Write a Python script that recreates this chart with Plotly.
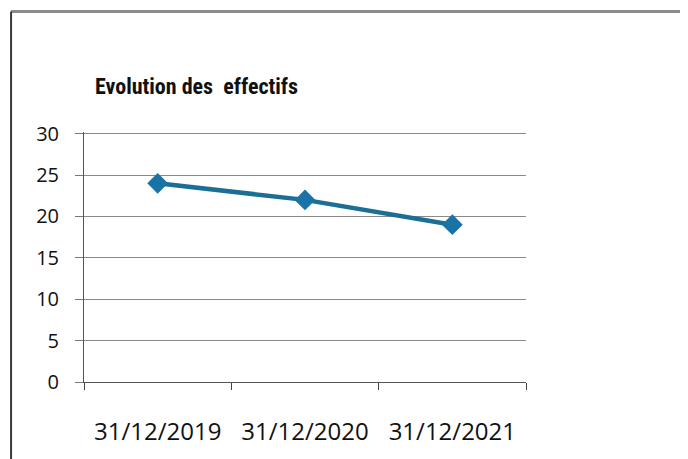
import plotly.graph_objects as go

# data
dates = ["31/12/2019", "31/12/2020", "31/12/2021"]
effectifs = [24, 22, 19]
y_ticks = [0, 5, 10, 15, 20, 25, 30]

title_text = "Evolution des  effectifs"
line_color = "#1b6f95"
marker_color = "#1a73a6"
grid_color = "#8a8a8a"

fig = go.Figure()

fig.add_trace(go.Scatter(
    x=dates, y=effectifs,
    mode="lines+markers",
    line=dict(color=line_color, width=4.5),
    marker=dict(symbol="diamond", size=16, color=marker_color),
    showlegend=False,
    hovertemplate="%{x}<br>%{y}<extra></extra>"
))

# title placed like the spreadsheet chart title
fig.add_annotation(
    text=f"<b>{title_text}</b>",
    xref="paper", yref="paper",
    x=0.02, y=1.183, xanchor="left", yanchor="middle",
    showarrow=False,
    font=dict(family="Liberation Sans Narrow, Roboto Condensed, Arial Narrow, sans-serif",
              size=22, color="#111111")
)

# scanned page frame: top and left border
fig.add_shape(type="line", xref="paper", yref="paper",
              x0=-0.165, x1=1.4, y0=1.482, y1=1.482,
              line=dict(color="#8c8c8c", width=3))
fig.add_shape(type="line", xref="paper", yref="paper",
              x0=-0.165, x1=-0.165, y0=1.482, y1=-0.35,
              line=dict(color="#3a3a3a", width=2))

# page body keeps an 8px margin, so the figure is 8px smaller on each side
fig.update_layout(
    width=680, height=451,
    margin=dict(l=76, r=162, t=124, b=77),
    paper_bgcolor="white",
    plot_bgcolor="white",
    font=dict(family="Open Sans, sans-serif", color="#111111"),
    xaxis=dict(
        type="category",
        range=[-0.5, 2.5],
        tickson="boundaries",
        ticks="outside", ticklen=7, tickcolor="#444", tickwidth=1,
        showline=True, linecolor="#555", linewidth=1,
        showgrid=False,
        tickfont=dict(size=24, color="#111111"),
        ticklabelstandoff=28,
        fixedrange=True,
    ),
    yaxis=dict(
        range=[0, 30.2],
        tickvals=y_ticks,
        ticks="outside", ticklen=8, tickcolor="#777", tickwidth=1,
        showline=True, linecolor="#555", linewidth=1,
        showgrid=True, gridcolor=grid_color, gridwidth=1,
        zeroline=False,
        tickfont=dict(size=20, color="#111111"),
        ticklabelstandoff=12,
        fixedrange=True,
    ),
)

fig.write_html("out.html")
